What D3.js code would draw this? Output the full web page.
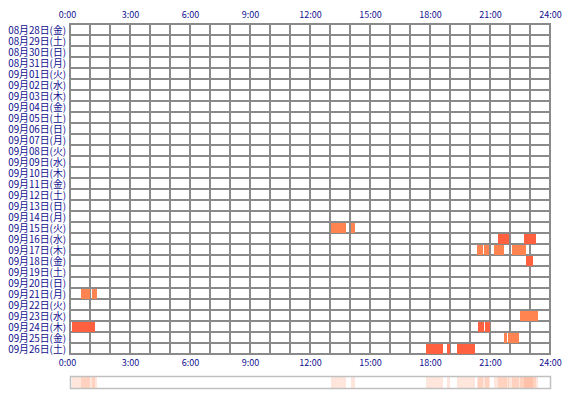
<!DOCTYPE html>
<html><head><meta charset="utf-8">
<script src="https://cdn.jsdelivr.net/npm/d3@7"></script>
<style>
html,body{margin:0;padding:0;background:#fff;}
svg{display:block;}
text{font-family:"Noto Sans CJK JP","Noto Sans",sans-serif;}
</style></head>
<body>
<svg id="chart" width="570" height="400"></svg>
<script>
// ---- data ----
const days = [
  "08月28日(金)","08月29日(土)","08月30日(日)","08月31日(月)",
  "09月01日(火)","09月02日(水)","09月03日(木)","09月04日(金)","09月05日(土)",
  "09月06日(日)","09月07日(月)","09月08日(火)","09月09日(水)","09月10日(木)",
  "09月11日(金)","09月12日(土)","09月13日(日)","09月14日(月)","09月15日(火)",
  "09月16日(水)","09月17日(木)","09月18日(金)","09月19日(土)","09月20日(日)",
  "09月21日(月)","09月22日(火)","09月23日(水)","09月24日(木)","09月25日(金)",
  "09月26日(土)"
];
const hourTicks = [0, 3, 6, 9, 12, 15, 18, 21, 24];
const tickLabels = ["0:00","3:00","6:00","9:00","12:00","15:00","18:00","21:00","24:00"];
// sessions: day, start, end (hh:mm), kind (0 = light, 1 = dark)
const sessionDay   = ["09月15日(火)","09月15日(火)",
                      "09月16日(水)","09月16日(水)",
                      "09月17日(木)","09月17日(木)","09月17日(木)","09月17日(木)",
                      "09月18日(金)",
                      "09月21日(月)","09月21日(月)",
                      "09月23日(水)",
                      "09月24日(木)","09月24日(木)","09月24日(木)",
                      "09月25日(金)","09月25日(金)",
                      "09月26日(土)","09月26日(土)","09月26日(土)"];
const sessionStart = ["13:03","14:03",
                      "21:24","22:42",
                      "20:21","20:42","21:12","22:06",
                      "22:48",
                      "0:33","1:06",
                      "22:30",
                      "0:06","20:24","20:45",
                      "21:42","21:54",
                      "17:48","18:51","19:21"];
const sessionEnd   = ["13:48","14:15",
                      "21:57","23:18",
                      "20:39","20:57","21:42","22:48",
                      "23:09",
                      "1:00","1:21",
                      "23:24",
                      "1:15","20:42","21:00",
                      "21:51","22:27",
                      "18:39","19:00","20:15"];
const sessionKind  = [0,0, 1,1, 0,0,0,0, 1, 0,0, 0, 1,1,1, 0,0, 1,1,1];
const kindColors = ["#ff8450", "#ff6040"];

// ---- layout ----
const svg = d3.select("#chart");
const leftX = 70, topY = 24, plotW = 480, rowH = 11;
const plotH = rowH * days.length;
const toMin = s => { const [h, m] = s.split(":").map(Number); return h * 60 + m; };

const x = d3.scaleLinear().domain([0, 24 * 60]).range([leftX, leftX + plotW]);
const y = d3.scaleBand().domain(days).range([topY, topY + plotH]);

// grid
const g = svg.append("g");
g.selectAll("line.h").data(d3.range(days.length + 1)).join("line")
  .attr("x1", leftX).attr("x2", leftX + plotW)
  .attr("y1", i => topY + i * rowH).attr("y2", i => topY + i * rowH)
  .attr("stroke", "#8a8a8a").attr("stroke-width", 2);
g.selectAll("line.v").data(d3.range(25)).join("line")
  .attr("x1", h => x(h * 60)).attr("x2", h => x(h * 60))
  .attr("y1", topY - 1).attr("y2", topY + plotH + 1)
  .attr("stroke", "#8a8a8a").attr("stroke-width", 2);

// sessions
const sessions = sessionDay.map((d, i) => ({
  day: d, s: toMin(sessionStart[i]), e: toMin(sessionEnd[i]), k: sessionKind[i]
}));
svg.append("g").selectAll("rect").data(sessions).join("rect")
  .attr("x", d => x(d.s)).attr("width", d => x(d.e) - x(d.s))
  .attr("y", d => y(d.day) + 1).attr("height", rowH - 1)
  .attr("fill", d => kindColors[d.k]);

// day labels
svg.append("g").selectAll("text").data(days).join("text")
  .attr("x", leftX - 4).attr("y", d => y(d) + rowH / 2 + 4)
  .attr("text-anchor", "end").attr("font-size", 9.8).attr("fill", "#101090")
  .attr("font-family", "'Liberation Sans', 'Noto Sans CJK JP', sans-serif")
  .text(d => d);

// hour axes (top and bottom)
const topAxis = d3.axisTop(x).tickValues(hourTicks.map(h => h * 60))
  .tickFormat((d, i) => tickLabels[i]).tickSize(0).tickPadding(6);
const botAxis = d3.axisBottom(x).tickValues(hourTicks.map(h => h * 60))
  .tickFormat((d, i) => tickLabels[i]).tickSize(0).tickPadding(6);
[svg.append("g").attr("transform", `translate(0,${topY})`).call(topAxis),
 svg.append("g").attr("transform", `translate(0,${topY + plotH})`).call(botAxis)]
.forEach(a => {
  a.select(".domain").remove();
  a.selectAll("text").attr("font-size", 9).attr("fill", "#101090")
    .attr("font-family", "'Noto Sans', sans-serif")
    .attr("dx", (d, i) => i === 0 ? -3 : 0);
});

// summary strip
const stripY = 377, stripH = 11;
const strip = svg.append("g");
strip.selectAll("rect").data(sessions).join("rect")
  .attr("x", d => x(d.s)).attr("width", d => x(d.e) - x(d.s))
  .attr("y", stripY).attr("height", stripH)
  .attr("fill", "#ff8450").attr("fill-opacity", 0.2);
strip.append("rect").attr("x", leftX + 0.5).attr("y", stripY - 0.5)
  .attr("width", plotW).attr("height", stripH + 1)
  .attr("fill", "none").attr("stroke", "#c0c0c0").attr("stroke-width", 1.5);
</script>
</body></html>
